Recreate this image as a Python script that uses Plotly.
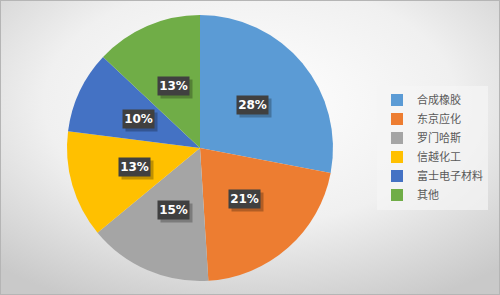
import math, base64
import plotly.graph_objects as go

labels = ["合成橡胶", "东京应化", "罗门哈斯", "信越化工", "富士电子材料", "其他"]
values = [28, 21, 15, 13, 10, 13]
colors = ["#5B9BD5", "#ED7D31", "#A5A5A5", "#FFC000", "#4472C4", "#70AD47"]

W, H = 500, 295
px0, px1, py0, py1 = 67, 333, 15, 281   # pie domain in pixels

svg = f'''<svg xmlns="http://www.w3.org/2000/svg" width="{W}" height="{H}">
<defs><radialGradient id="g" cx="50%" cy="35%" r="75%">
<stop offset="0%" stop-color="#ffffff"/><stop offset="55%" stop-color="#f0f0f0"/><stop offset="100%" stop-color="#c9c9c9"/>
</radialGradient></defs><rect width="{W}" height="{H}" fill="url(#g)"/></svg>'''
bg = "data:image/svg+xml;base64," + base64.b64encode(svg.encode()).decode()

fig = go.Figure(go.Pie(
    labels=labels, values=values, sort=False, direction="clockwise", rotation=0,
    marker=dict(colors=colors, line=dict(width=0)),
    textinfo="none", hoverinfo="label+percent",
    domain=dict(x=[px0 / W, px1 / W], y=[1 - py1 / H, 1 - py0 / H]),
))

# percentage label boxes placed from the data
cx, cy = (px0 + px1) / 2, (py0 + py1) / 2
R = (px1 - px0) / 2
total = sum(values)
cum = 0
ann = []
for v in values:
    mid = (cum + v / 2) / total * 2 * math.pi
    cum += v
    x = cx + 0.51 * R * math.sin(mid)
    y = cy - 0.51 * R * math.cos(mid)
    txt = f"<b>{round(v / total * 100)}%</b>"
    common = dict(xref="paper", yref="paper", xanchor="center", yanchor="middle",
                  showarrow=False, borderpad=0, width=31, height=18)
    ann.append(dict(x=(x + 3) / W, y=1 - (y + 3) / H, bgcolor="rgba(0,0,0,0.25)",
                    text="&nbsp;", font=dict(size=12), **common))
    ann.append(dict(x=x / W, y=1 - y / H, bgcolor="#404040", text=txt,
                    font=dict(color="white", size=12, family="DejaVu Sans"), **common))

fig.update_layout(
    width=W, height=H, margin=dict(l=0, r=0, t=0, b=0, autoexpand=False),
    paper_bgcolor="#e6e6e6", plot_bgcolor="rgba(0,0,0,0)",
    images=[dict(source=bg, xref="paper", yref="paper", x=0, y=1, sizex=1, sizey=1,
                 sizing="stretch", layer="below", xanchor="left", yanchor="top")],
    annotations=ann,
    legend=dict(x=(W - 12) / W, y=0.5, xanchor="right", yanchor="middle",
                bgcolor="rgba(245,245,245,0.7)",
                font=dict(family="Noto Sans CJK SC", size=11, color="#595959"),
                itemwidth=30, tracegroupgap=0),
    shapes=[dict(type="rect", xref="paper", yref="paper", x0=0, y0=0, x1=1, y1=1,
                 line=dict(color="#b5b5b5", width=2), fillcolor="rgba(0,0,0,0)")],
    showlegend=True,
)

fig.write_html("out.html")
